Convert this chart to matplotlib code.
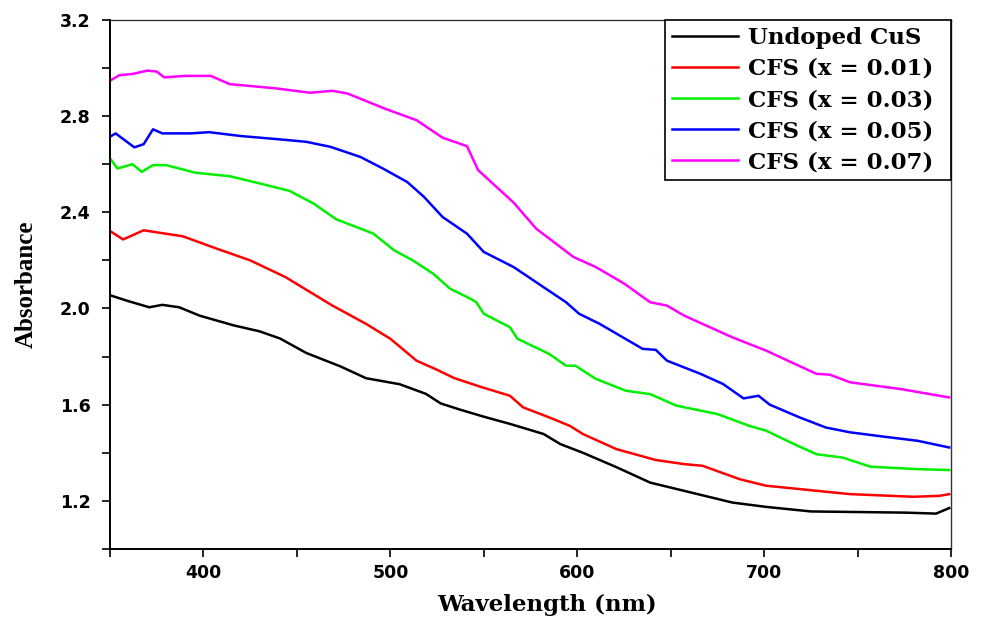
import matplotlib
matplotlib.use("Agg")
import matplotlib.pyplot as plt
import numpy as np
from matplotlib.ticker import MultipleLocator, FixedLocator

# values (wavelength nm, absorbance)
wl_cus = [350, 360, 371, 378, 387, 398, 416, 430, 441, 455, 473, 487, 505, 519, 527,
          537, 550, 564, 582, 591, 603, 621, 639, 657, 683, 701, 725, 776, 792, 799]
ab_cus = [2.055, 2.03, 2.005, 2.015, 2.005, 1.97, 1.93, 1.905, 1.875, 1.815, 1.76, 1.71,
          1.685, 1.645, 1.605, 1.58, 1.55, 1.52, 1.478, 1.436, 1.40, 1.34, 1.276, 1.242,
          1.193, 1.175, 1.156, 1.151, 1.147, 1.17]

wl_x01 = [350, 357, 368, 389, 407, 425, 444, 455, 469, 487, 500, 514, 525, 534, 548, 564,
          571, 585, 596, 603, 621, 642, 657, 667, 687, 701, 728, 746, 780, 794, 799]
ab_x01 = [2.322, 2.287, 2.325, 2.30, 2.249, 2.20, 2.13, 2.078, 2.012, 1.936, 1.874, 1.783,
          1.745, 1.711, 1.675, 1.637, 1.589, 1.547, 1.512, 1.478, 1.415, 1.37, 1.353, 1.346,
          1.29, 1.263, 1.242, 1.228, 1.217, 1.221, 1.228]

wl_x03 = [350, 354, 362, 367, 373, 380, 396, 414, 430, 446, 459, 471, 491, 502, 512, 523,
          532, 543, 546, 550, 564, 568, 585, 594, 599, 610, 626, 639, 653, 675, 692, 701,
          716, 728, 742, 757, 782, 799]
ab_x03 = [2.624, 2.582, 2.60, 2.568, 2.596, 2.596, 2.564, 2.55, 2.52, 2.489, 2.436, 2.371,
          2.311, 2.242, 2.20, 2.144, 2.082, 2.04, 2.026, 1.978, 1.922, 1.874, 1.811, 1.762,
          1.762, 1.707, 1.658, 1.644, 1.596, 1.561, 1.512, 1.492, 1.436, 1.394, 1.38, 1.342,
          1.332, 1.328]

wl_x05 = [350, 353, 363, 368, 373, 378, 393, 403, 420, 441, 455, 468, 484, 496, 509, 518,
          528, 541, 550, 566, 584, 594, 601, 612, 635, 642, 648, 666, 678, 689, 697, 703,
          719, 733, 746, 764, 782, 799]
ab_x05 = [2.714, 2.728, 2.67, 2.683, 2.745, 2.728, 2.728, 2.733, 2.717, 2.703, 2.693, 2.672,
          2.63, 2.582, 2.526, 2.464, 2.38, 2.311, 2.235, 2.172, 2.078, 2.026, 1.978, 1.936,
          1.832, 1.828, 1.783, 1.728, 1.686, 1.626, 1.637, 1.60, 1.547, 1.505, 1.485, 1.467,
          1.45, 1.422]

wl_x07 = [350, 355, 362, 370, 375, 379, 390, 404, 414, 439, 457, 469, 477, 498, 514, 528,
          541, 547, 566, 578, 598, 610, 625, 639, 648, 657, 683, 701, 728, 735, 746, 773, 799]
ab_x07 = [2.947, 2.97, 2.975, 2.989, 2.985, 2.961, 2.967, 2.967, 2.933, 2.915, 2.897, 2.905,
          2.894, 2.828, 2.783, 2.71, 2.675, 2.575, 2.44, 2.332, 2.214, 2.172, 2.104, 2.026,
          2.012, 1.971, 1.88, 1.825, 1.728, 1.725, 1.693, 1.665, 1.63]

labels = ["Undoped CuS", "CFS (x = 0.01)", "CFS (x = 0.03)", "CFS (x = 0.05)", "CFS (x = 0.07)"]
colors = ["black", "#ff0000", "#00f000", "#0000ff", "#ff00ff"]
series = [(wl_cus, ab_cus), (wl_x01, ab_x01), (wl_x03, ab_x03), (wl_x05, ab_x05), (wl_x07, ab_x07)]


def main() -> None:
    fig = plt.figure(figsize=(9.84, 6.21), dpi=100)
    ax = fig.add_axes([0.1118, 0.116, 0.8547, 0.852])

    for (wl, ab), lab, col in zip(series, labels, colors):
        ax.plot(wl, ab, color=col, linewidth=1.8, label=lab)

    ax.set_xlim(350, 800)
    ax.set_ylim(1.0, 3.2)
    ax.xaxis.set_major_locator(MultipleLocator(100))
    ax.xaxis.set_minor_locator(FixedLocator([350, 450, 550, 650, 750]))
    ax.yaxis.set_major_locator(FixedLocator([1.2, 1.6, 2.0, 2.4, 2.8, 3.2]))
    ax.yaxis.set_minor_locator(FixedLocator([1.0, 1.4, 1.8, 2.2, 2.6, 3.0]))
    ax.yaxis.set_major_formatter(matplotlib.ticker.FormatStrFormatter("%.1f"))

    ax.tick_params(which="both", direction="out", length=6, width=1.2,
                   top=False, right=False)
    for lab in ax.get_xticklabels() + ax.get_yticklabels():
        lab.set_fontfamily("DejaVu Sans")
        lab.set_fontweight("bold")
        lab.set_fontsize(12.5)
    ax.tick_params(axis="x", pad=5)
    ax.tick_params(axis="y", pad=8)

    for side in ("left", "bottom"):
        ax.spines[side].set_linewidth(1.4)
    for side in ("top", "right"):
        ax.spines[side].set_linewidth(1.0)
        ax.spines[side].set_color("#333333")

    ax.set_xlabel("Wavelength (nm)", fontfamily="DejaVu Serif", fontweight="bold",
                  fontsize=16.5, labelpad=4)
    ax.xaxis.set_label_coords(0.52, -0.085)
    ax.set_ylabel("Absorbance", fontfamily="Liberation Serif", fontweight="bold",
                  fontsize=18, labelpad=16)

    leg = ax.legend(loc="upper right", bbox_to_anchor=(0.66, 0.0, 0.34, 1.0),
                    mode="expand", borderaxespad=0, fancybox=False,
                    framealpha=1, edgecolor="black", handlelength=2.9,
                    handletextpad=0.4, labelspacing=0.4, borderpad=0.3,
                    prop={"family": "DejaVu Serif", "weight": "bold", "size": 16.5})
    leg.get_frame().set_linewidth(1.2)

    fig.savefig("out.png", dpi=100)
    plt.close(fig)


if __name__ == "__main__":
    main()
